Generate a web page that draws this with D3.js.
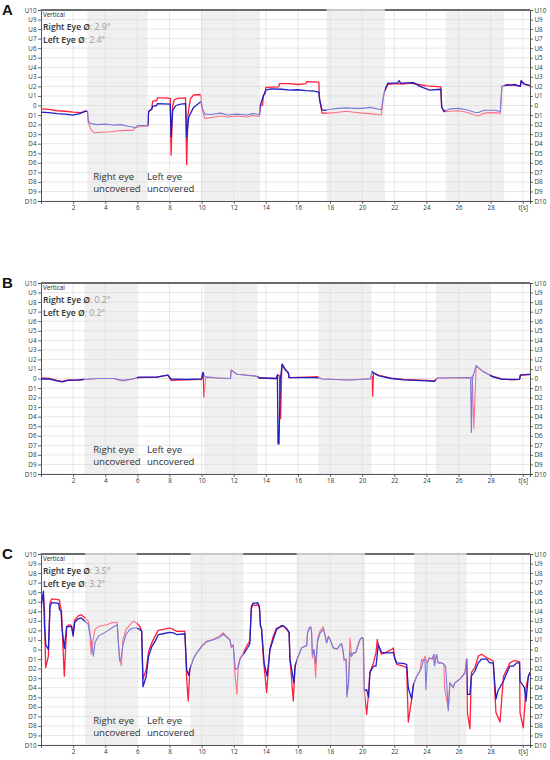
<!DOCTYPE html>
<html>
<head>
<meta charset="utf-8">
<script src="https://cdn.jsdelivr.net/npm/d3@7"></script>
<style>
  body { margin: 0; background: #fff; }
  text { font-family: "Open Sans", "Noto Sans", sans-serif; }
</style>
</head>
<body>
<script>
// ---- data ----
const panelLetters = ["A", "B", "C"];
const rightEyeMean = ["2.9°", "0.2°", "3.5°"];
const leftEyeMean = ["2.4°", "0.2°", "3.2°"];
const yTickValues = d3.range(-10, 11);
const xTickValues = [2, 4, 6, 8, 10, 12, 14, 16, 18, 20, 22, 24, 26, 28, 30];
const xTickLabels = ["2", "4", "6", "8", "10", "12", "14", "16", "18", "20", "22", "24", "26", "28", "t[s]"];

// gray bands (one eye covered), seconds
const shadesA = [[2.88, 6.64], [9.94, 13.64], [17.79, 21.42], [25.2, 28.85]];
const shadesB = [[2.7, 5.96], [10.15, 13.47], [17.27, 20.59], [24.6, 27.96]];
const shadesC = [[2.74, 5.96], [9.32, 12.6], [15.92, 20.17], [23.23, 26.5]];
// parts of the top border drawn light
const topLightA = [[17.79, 21.42]];
const topLightB = [];
const topLightC = shadesC;

// traces [t, deg]; positive = up (U), negative = down (D)
const redA = [[0,-0.35],[0.5,-0.4],[1.0,-0.55],[1.5,-0.6],[2.0,-0.7],[2.5,-0.75],[2.7,-0.6],[2.9,-0.6],[2.95,-1.8],[3.1,-2.5],[3.3,-2.85],[3.8,-2.8],[4.3,-2.75],[4.8,-2.65],[5.3,-2.6],[5.7,-2.6],[5.9,-2.3],[6.2,-2.2],[6.65,-2.15],[6.7,-0.6],[6.9,-0.4],[6.95,0.45],[7.2,0.5],[7.25,0.8],[7.7,0.8],[8.05,0.75],[8.1,-5.2],[8.2,0.0],[8.3,0.6],[8.5,0.75],[9.0,0.8],[9.07,-6.2],[9.15,-1.0],[9.3,0.7],[9.5,1.1],[9.95,1.15],[10.05,-0.5],[10.2,-1.35],[10.6,-1.25],[11.2,-1.1],[11.6,-1.2],[12.2,-1.1],[12.8,-1.2],[13.2,-1.05],[13.6,-1.15],[13.65,0.0],[13.8,0.05],[13.85,1.1],[13.95,1.2],[14.0,1.9],[14.8,1.95],[14.85,2.3],[15.5,2.3],[16.0,2.2],[16.5,2.3],[16.55,2.5],[17.3,2.45],[17.35,0.6],[17.5,-0.8],[18.0,-0.8],[18.5,-0.7],[19.0,-0.6],[19.5,-0.7],[20.0,-0.8],[20.5,-0.85],[21.2,-1.0],[21.3,0.6],[21.4,1.5],[21.6,2.2],[22.0,2.3],[22.5,2.25],[23.0,2.35],[23.5,2.2],[24.0,2.05],[24.5,2.0],[24.9,1.95],[24.95,-0.2],[25.1,-0.65],[25.5,-0.6],[26.0,-0.55],[26.5,-0.7],[27.0,-1.0],[27.2,-1.1],[27.6,-0.8],[28.0,-0.75],[28.6,-0.8],[28.7,2.0],[29.0,2.2],[29.5,2.1],[29.85,2.0],[29.9,2.55],[30.1,2.2],[30.45,2.05]];
const blueA = [[0,-0.7],[0.5,-0.75],[1.0,-0.85],[1.5,-0.9],[2.0,-1.0],[2.4,-0.85],[2.8,-0.6],[2.9,-0.65],[2.95,-1.6],[3.1,-1.9],[3.5,-2.0],[4.0,-1.95],[4.5,-2.05],[5.0,-2.0],[5.5,-2.2],[5.9,-2.3],[6.0,-2.1],[6.65,-2.1],[6.7,-0.65],[6.9,-0.35],[6.95,-0.1],[7.2,0.0],[7.25,0.2],[8.05,0.15],[8.1,-3.3],[8.2,-0.5],[8.4,0.0],[8.7,0.15],[9.0,0.2],[9.07,-3.3],[9.2,-1.2],[9.5,-0.2],[9.95,0.4],[10.05,-0.3],[10.2,-0.9],[10.6,-0.95],[11.2,-0.8],[11.6,-1.0],[12.2,-0.9],[12.8,-1.0],[13.2,-0.85],[13.6,-0.95],[13.65,0.0],[13.85,1.0],[14.0,1.6],[14.3,1.75],[15.0,1.7],[15.5,1.6],[16.0,1.65],[16.5,1.55],[17.0,1.5],[17.3,1.4],[17.35,0.6],[17.5,-0.45],[17.7,-0.5],[18.0,-0.4],[18.5,-0.3],[19.0,-0.25],[19.5,-0.3],[20.0,-0.3],[20.5,-0.2],[21.2,-0.45],[21.3,0.75],[21.4,1.6],[21.6,2.35],[22.2,2.35],[22.3,2.6],[22.4,2.35],[23.2,2.4],[23.6,2.0],[24.2,1.6],[24.9,1.7],[24.95,-0.15],[25.1,-0.6],[25.5,-0.35],[26.0,-0.3],[26.5,-0.45],[27.0,-0.7],[27.2,-0.75],[27.6,-0.5],[28.3,-0.5],[28.6,-0.65],[28.7,2.05],[29.0,2.1],[29.5,2.2],[29.85,2.0],[29.9,2.6],[30.1,2.25],[30.45,2.1]];

const redB = [[0,0.05],[0.5,0.0],[1.0,-0.2],[1.3,-0.3],[1.7,-0.15],[2.3,-0.2],[2.7,-0.1],[3.5,0.0],[4.5,0.0],[5.1,-0.25],[5.7,-0.05],[6.1,0.1],[7.2,0.15],[7.9,0.35],[8.1,-0.2],[9.0,-0.15],[10.0,-0.1],[10.1,0.6],[10.15,-1.95],[10.25,0.1],[11.0,0.05],[11.8,0.0],[11.85,0.85],[12.2,0.45],[13.4,0.25],[13.6,0.05],[14.7,0.0],[14.75,0.35],[14.85,0.3],[14.92,-4.2],[15.0,1.5],[15.2,0.95],[15.4,0.6],[15.45,0.1],[16.5,0.15],[17.2,0.2],[17.5,-0.05],[19.2,-0.15],[20.5,0.0],[20.62,0.2],[20.65,-1.85],[20.7,0.6],[21.0,0.35],[21.8,0.05],[22.6,-0.1],[24.0,-0.2],[24.5,-0.25],[24.7,0.05],[26.8,0.05],[26.85,0.3],[26.95,-5.2],[27.1,1.35],[27.5,0.75],[28.1,0.25],[28.7,-0.05],[29.4,-0.15],[29.8,-0.1],[29.85,0.35],[30.45,0.4]];
const blueB = [[0,-0.05],[0.5,-0.05],[1.0,-0.25],[1.3,-0.35],[1.7,-0.2],[2.3,-0.15],[2.7,-0.1],[3.5,0.0],[4.5,0.0],[5.1,-0.2],[5.7,-0.05],[6.1,0.15],[7.2,0.15],[7.9,0.35],[8.1,-0.05],[9.0,-0.1],[10.0,-0.05],[10.08,0.65],[10.2,0.2],[11.0,0.05],[11.8,0.0],[11.85,0.9],[12.2,0.45],[13.4,0.25],[13.6,0.05],[14.65,0.0],[14.72,0.4],[14.76,-6.85],[14.82,-6.85],[14.9,0.0],[15.03,1.5],[15.2,0.95],[15.4,0.6],[15.45,0.1],[16.5,0.1],[17.2,0.1],[17.5,-0.05],[19.2,-0.15],[20.5,-0.05],[20.62,0.75],[20.7,0.6],[21.0,0.3],[21.8,0.0],[22.6,-0.15],[24.0,-0.25],[24.5,-0.3],[24.7,0.05],[26.75,0.1],[26.8,-5.65],[26.86,0.0],[27.1,1.35],[27.5,0.75],[28.1,0.2],[28.7,-0.1],[29.4,-0.1],[29.8,-0.1],[29.85,0.35],[30.45,0.45]];

const redC = [[0,5.4],[0.15,5.7],[0.22,4.0],[0.29,-1.9],[0.46,-0.7],[0.56,4.9],[0.66,5.3],[0.9,5.25],[1.15,5.2],[1.2,4.5],[1.28,4.0],[1.33,1.75],[1.45,-2.8],[1.6,2.4],[1.75,2.6],[1.9,2.5],[2.0,1.7],[2.1,3.1],[2.3,3.5],[2.5,3.65],[2.75,3.3],[2.95,2.95],[3.05,1.75],[3.12,-0.5],[3.2,0.5],[3.36,2.1],[3.57,2.4],[4.1,2.6],[4.4,2.8],[4.75,2.85],[4.8,1.0],[4.9,-1.0],[5.0,-1.7],[5.1,1.0],[5.3,2.1],[5.55,2.6],[5.75,2.95],[5.95,2.8],[6.16,2.4],[6.27,1.9],[6.35,-3.1],[6.55,-2.1],[6.7,-0.2],[6.9,0.7],[7.1,1.4],[7.3,2.0],[7.6,2.1],[8.0,2.25],[8.25,2.1],[8.45,1.9],[8.96,1.9],[9.07,-3.1],[9.17,-5.4],[9.27,-2.1],[9.48,-1.0],[9.7,-0.35],[10.0,0.35],[10.3,0.87],[10.7,1.05],[11.1,1.4],[11.35,1.75],[11.55,1.4],[11.76,1.05],[11.85,0.2],[11.97,0.5],[12.07,-2.4],[12.2,-4.7],[12.28,-1.7],[12.4,-0.9],[12.6,-0.35],[12.8,0.35],[13.0,0.87],[13.1,4.3],[13.2,4.7],[13.4,4.6],[13.5,4.75],[13.6,4.4],[13.67,2.4],[13.73,2.25],[13.85,-1.0],[14.05,-4.5],[14.25,0.0],[14.46,1.4],[14.67,2.25],[14.98,2.4],[15.09,2.45],[15.3,2.1],[15.45,1.75],[15.5,-1.0],[15.55,-1.9],[15.71,-5.4],[15.82,-1.75],[16.02,-0.7],[16.23,0.17],[16.43,0.35],[16.54,0.4],[16.6,1.75],[16.7,2.25],[16.8,2.35],[16.85,1.75],[16.9,-0.9],[17.0,0.0],[17.1,-2.95],[17.22,1.05],[17.37,1.9],[17.58,2.4],[17.68,1.55],[17.79,0.7],[17.89,1.4],[18.0,1.05],[18.2,0.17],[18.41,0.05],[18.5,0.17],[18.62,0.5],[18.72,0.6],[18.82,-0.35],[18.87,-1.2],[19.0,-1.0],[19.06,-4.6],[19.15,-3.5],[19.24,1.2],[19.34,-0.7],[19.45,-0.35],[19.6,-0.35],[19.76,0.5],[19.86,1.05],[19.97,1.2],[20.07,1.1],[20.13,-4.3],[20.28,-6.8],[20.4,-4.5],[20.48,-2.4],[20.7,-1.4],[20.86,-0.35],[20.94,1.05],[21.0,0.5],[21.2,-0.5],[21.4,-0.35],[21.6,-0.2],[21.83,0.0],[21.94,0.17],[22.04,-1.0],[22.15,-1.55],[22.56,-1.75],[22.77,-1.9],[22.87,-7.6],[23.08,-5.2],[23.18,-3.8],[23.39,-2.8],[23.6,-2.25],[23.7,-1.0],[23.8,-1.2],[23.91,-0.7],[24.05,-1.4],[24.18,-0.9],[24.38,-1.0],[24.46,-0.5],[24.5,-1.7],[24.63,-0.5],[24.73,-1.4],[24.95,-1.4],[25.09,-1.55],[25.13,-4.0],[25.36,-6.2],[25.46,-3.5],[25.67,-4.0],[25.77,-3.5],[26.08,-3.1],[26.4,-2.4],[26.5,-1.0],[26.55,-6.6],[26.71,-8.3],[26.8,-2.4],[27.02,-1.9],[27.23,-0.7],[27.44,-0.5],[27.75,-0.87],[27.95,-1.0],[28.16,-1.2],[28.33,-6.6],[28.58,-7.6],[28.8,-2.8],[29.0,-2.1],[29.2,-1.4],[29.41,-1.2],[29.62,-1.2],[29.8,-1.3],[29.83,-6.6],[30.03,-8.2],[30.2,-4.0],[30.35,-2.8],[30.45,-2.4]];
const blueC = [[0,4.35],[0.15,6.1],[0.22,2.4],[0.3,0.5],[0.46,0.0],[0.56,4.5],[0.66,4.9],[1.0,4.85],[1.1,4.8],[1.15,4.2],[1.25,4.0],[1.3,2.4],[1.45,0.1],[1.6,2.4],[1.9,2.4],[2.0,1.4],[2.1,2.85],[2.3,3.2],[2.5,3.3],[2.75,2.95],[2.95,2.6],[3.0,2.0],[3.1,1.2],[3.26,-0.7],[3.36,0.7],[3.57,1.4],[4.1,1.9],[4.4,2.25],[4.75,2.6],[4.8,1.2],[4.9,-1.2],[5.0,-0.8],[5.1,0.5],[5.3,1.6],[5.55,2.1],[5.75,2.25],[5.95,2.25],[6.16,2.1],[6.27,1.9],[6.35,-3.9],[6.55,-2.8],[6.7,-0.7],[6.9,0.3],[7.1,0.85],[7.3,1.55],[7.6,1.65],[8.0,1.8],[8.25,1.75],[8.45,1.55],[8.96,1.65],[9.07,-2.1],[9.2,-2.7],[9.27,-2.1],[9.48,-1.0],[9.7,-0.35],[10.0,0.3],[10.3,0.8],[10.7,1.0],[11.1,1.25],[11.35,1.6],[11.55,1.3],[11.76,1.0],[11.85,0.3],[11.97,0.45],[12.1,-2.1],[12.28,-1.9],[12.4,-1.0],[12.6,-0.5],[12.8,0.0],[13.0,0.55],[13.1,4.5],[13.2,4.85],[13.4,4.85],[13.5,4.9],[13.6,4.5],[13.67,2.4],[13.73,2.25],[13.9,-1.5],[14.08,-2.8],[14.26,0.0],[14.46,1.05],[14.67,2.1],[14.98,2.5],[15.09,2.5],[15.3,2.2],[15.45,1.8],[15.5,-1.0],[15.75,-3.5],[15.82,-1.75],[16.02,-0.7],[16.23,0.17],[16.43,0.35],[16.54,0.4],[16.6,1.75],[16.7,2.25],[16.8,2.35],[16.85,1.75],[16.9,-0.5],[17.0,0.0],[17.1,-1.5],[17.22,0.8],[17.37,1.7],[17.58,2.1],[17.68,1.55],[17.79,0.7],[17.89,1.3],[18.0,1.05],[18.2,0.17],[18.41,0.05],[18.5,0.17],[18.62,0.5],[18.72,0.6],[18.82,-0.2],[18.87,-1.0],[19.0,-1.0],[19.05,-5.0],[19.15,-3.5],[19.24,-0.3],[19.34,-0.7],[19.45,-0.35],[19.6,-0.3],[19.76,0.6],[19.86,1.0],[19.97,1.25],[20.07,1.2],[20.13,-4.35],[20.28,-4.2],[20.4,-5.0],[20.48,-2.4],[20.7,-1.75],[20.86,-1.75],[20.94,-0.5],[21.0,0.5],[21.2,-0.3],[21.4,-0.35],[21.6,-0.35],[21.83,-0.35],[21.94,-0.3],[22.04,-1.0],[22.15,-1.4],[22.56,-1.45],[22.77,-1.55],[22.87,-4.0],[23.08,-5.2],[23.18,-3.8],[23.39,-2.8],[23.6,-2.25],[23.7,-1.9],[23.8,-1.2],[23.91,-1.0],[23.97,-4.2],[24.05,-1.4],[24.18,-0.9],[24.38,-1.0],[24.46,-0.5],[24.5,-1.7],[24.63,-0.5],[24.73,-1.4],[24.95,-1.4],[25.09,-1.55],[25.2,-1.8],[25.36,-6.4],[25.46,-3.5],[25.67,-4.0],[25.77,-3.5],[26.08,-3.1],[26.4,-2.5],[26.5,-1.0],[26.55,-4.7],[26.71,-4.7],[26.8,-2.8],[27.02,-2.25],[27.23,-1.4],[27.44,-1.0],[27.75,-1.0],[27.95,-1.4],[28.16,-1.4],[28.33,-5.2],[28.45,-4.35],[28.8,-3.3],[29.0,-2.45],[29.2,-1.75],[29.41,-1.75],[29.62,-1.4],[29.8,-1.4],[29.83,-3.3],[30.1,-4.0],[30.2,-5.4],[30.35,-2.8],[30.45,-2.4]];

// ---- layout ----
const width = 550, height = 760;
const plotLeft = 41, plotRight = 530, plotH = 191;
const panelTops = [10, 283, 554];
const panels = [
  { shades: shadesA, topLight: topLightA, red: redA, blue: blueA },
  { shades: shadesB, topLight: topLightB, red: redB, blue: blueB },
  { shades: shadesC, topLight: topLightC, red: redC, blue: blueC }
];

const colors = { red: "#ff1f3a", blue: "#1f1fc4", redLight: "#ff7184", blueLight: "#7a78dc" };

const svg = d3.select("body").append("svg")
  .attr("width", width)
  .attr("height", height);

const x = d3.scaleLinear().domain([0, 30.45]).range([plotLeft, plotRight]);
const y = d3.scaleLinear().domain([-10, 10]).range([plotH, 0]);

function yLabel(v) {
  if (v === 0) return "0";
  return (v > 0 ? "U" : "D") + Math.abs(v);
}

// intervals not covered by shades
function complement(shades) {
  const out = [];
  let start = 0;
  shades.forEach(s => { out.push([start, s[0]]); start = s[1]; });
  out.push([start, 30.45]);
  return out;
}

function addClip(id, intervals) {
  const cp = svg.append("defs").append("clipPath").attr("id", id);
  intervals.forEach(iv => {
    cp.append("rect")
      .attr("x", x(iv[0]))
      .attr("y", -5)
      .attr("width", x(iv[1]) - x(iv[0]))
      .attr("height", plotH + 10);
  });
}

panels.forEach((p, i) => {
  const g = svg.append("g").attr("transform", `translate(0,${panelTops[i]})`);

  // shaded bands
  g.selectAll("rect.shade").data(p.shades).join("rect")
    .attr("class", "shade")
    .attr("x", d => x(d[0]))
    .attr("y", 0)
    .attr("width", d => x(d[1]) - x(d[0]))
    .attr("height", plotH)
    .attr("fill", "#f0f0f0");

  // grid
  g.selectAll("line.hgrid").data(yTickValues).join("line")
    .attr("class", "hgrid")
    .attr("x1", plotLeft).attr("x2", plotRight)
    .attr("y1", d => y(d)).attr("y2", d => y(d))
    .attr("stroke", "#dcdcdc").attr("stroke-width", 0.7);
  g.selectAll("line.vgrid").data(xTickValues).join("line")
    .attr("class", "vgrid")
    .attr("x1", d => x(d)).attr("x2", d => x(d))
    .attr("y1", 0).attr("y2", plotH)
    .attr("stroke", "#dcdcdc").attr("stroke-width", 0.7);

  // axes
  const left = g.append("g").attr("transform", `translate(${plotLeft},0)`)
    .call(d3.axisLeft(y).tickValues(yTickValues).tickFormat(yLabel).tickSize(3).tickPadding(1.5));
  const right = g.append("g").attr("transform", `translate(${plotRight},0)`)
    .call(d3.axisRight(y).tickValues(yTickValues).tickFormat(yLabel).tickSize(3).tickPadding(1.5));
  const bottom = g.append("g").attr("transform", `translate(0,${plotH})`)
    .call(d3.axisBottom(x).tickValues(xTickValues).tickFormat((d, k) => xTickLabels[k]).tickSize(3).tickPadding(2));
  [left, right, bottom].forEach(a => {
    a.select(".domain").attr("stroke", "#444").attr("stroke-width", 0.9);
    a.selectAll(".tick line").attr("stroke", "#444").attr("stroke-width", 0.8);
    a.selectAll(".tick text").attr("fill", "#333").style("font-size", "6.3px");
  });

  // top border: dark with light stretches
  g.append("line")
    .attr("x1", plotLeft).attr("x2", plotRight)
    .attr("y1", 0).attr("y2", 0)
    .attr("stroke", "#6b6b6b").attr("stroke-width", 2);
  g.selectAll("line.toplight").data(p.topLight).join("line")
    .attr("class", "toplight")
    .attr("x1", d => x(d[0])).attr("x2", d => x(d[1]))
    .attr("y1", 0).attr("y2", 0)
    .attr("stroke", "#c8c8c8").attr("stroke-width", 2);

  // traces: full colour outside bands, pale inside
  const clearId = "clear" + i, shadeId = "shade" + i;
  addClip(clearId, complement(p.shades));
  addClip(shadeId, p.shades);
  const line = d3.line().x(d => x(d[0])).y(d => y(d[1]));
  [["red", p.red], ["blue", p.blue]].forEach(([name, data]) => {
    g.append("path").datum(data)
      .attr("d", line)
      .attr("fill", "none")
      .attr("stroke", colors[name])
      .attr("stroke-width", 1.3)
      .attr("stroke-linejoin", "round")
      .attr("clip-path", `url(#${clearId})`);
    g.append("path").datum(data)
      .attr("d", line)
      .attr("fill", "none")
      .attr("stroke", colors[name + "Light"])
      .attr("stroke-width", 1.1)
      .attr("stroke-linejoin", "round")
      .attr("clip-path", `url(#${shadeId})`);
  });

  // labels inside the plot
  g.append("text").attr("x", 43).attr("y", 7)
    .style("font-size", "6.3px").attr("fill", "#222").text("Vertical");
  const r = g.append("text").attr("x", 43).attr("y", 20).style("font-size", "8.6px");
  r.append("tspan").attr("font-weight", 600).attr("fill", "#333").text("Right Eye Ø");
  r.append("tspan").attr("fill", "#999").text(": " + rightEyeMean[i]);
  const l = g.append("text").attr("x", 43).attr("y", 33).style("font-size", "8.6px");
  l.append("tspan").attr("font-weight", 600).attr("fill", "#333").text("Left Eye Ø");
  l.append("tspan").attr("fill", "#999").text(": " + leftEyeMean[i]);

  const cap = [["Right eye", "uncovered", x(3.25)], ["Left eye", "uncovered", x(6.6)]];
  cap.forEach(c => {
    const t = g.append("text").attr("x", c[2]).attr("y", 170)
      .style("font-size", "9.6px").attr("fill", "#333");
    t.append("tspan").attr("x", c[2]).attr("dy", 0).text(c[0]);
    t.append("tspan").attr("x", c[2]).attr("dy", 11.5).text(c[1]);
  });

  // panel letter
  svg.append("text")
    .attr("x", 2).attr("y", panelTops[i] + 5)
    .style("font-size", "15px").attr("font-weight", 700)
    .style("font-family", "Liberation Sans, Arial, sans-serif")
    .attr("fill", "#111").text(panelLetters[i]);
});
</script>
</body>
</html>
